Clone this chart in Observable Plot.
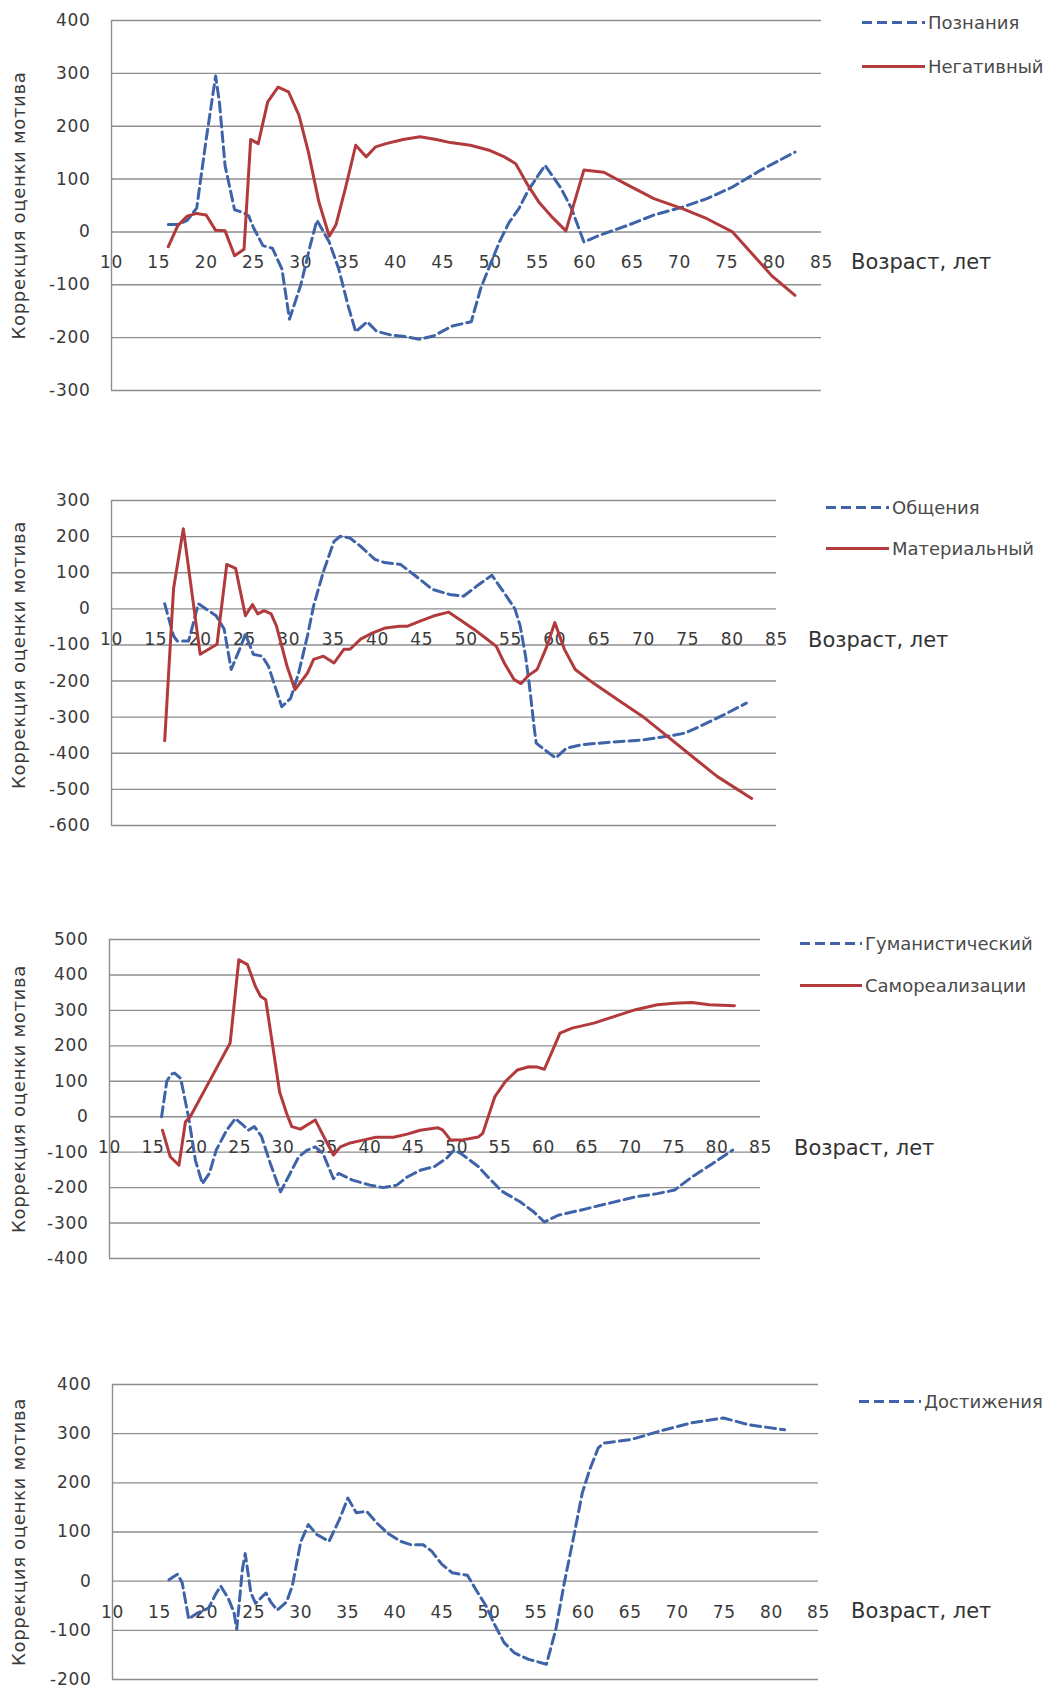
<!DOCTYPE html>
<html><head><meta charset="utf-8">
<script src="https://cdn.jsdelivr.net/npm/d3@7"></script>
<script src="https://cdn.jsdelivr.net/npm/@observablehq/plot@0.6"></script>
<style>
html,body{margin:0;padding:0;background:#fff;}
#page{position:relative;width:1055px;height:1690px;overflow:hidden;font-family:"DejaVu Sans",sans-serif;background:#fff;}
.panel{position:absolute;left:0;}
.panel svg{display:block;}
.panel svg text{letter-spacing:0.7px;}
.lg{position:absolute;display:flex;align-items:center;font-size:18px;color:#4a4a4a;white-space:nowrap;transform:translateY(-50%);}
.lg svg{display:block;}
.xt{position:absolute;font-size:21px;color:#333;white-space:nowrap;transform:translateY(-50%);}
</style></head><body><div id="page"></div>
<script>
// ---- data: [age, value] ----
const xTicks = [10,15,20,25,30,35,40,45,50,55,60,65,70,75,80,85];
const yTicks1 = [-300,-200,-100,0,100,200,300,400];
const yTicks2 = [-600,-500,-400,-300,-200,-100,0,100,200,300];
const yTicks3 = [-400,-300,-200,-100,0,100,200,300,400,500];
const yTicks4 = [-200,-100,0,100,200,300,400];

const poznaniya = [[16,14],[17,14],[18,22],[19,45],[20,175],[21,295],[21.4,245],[22,125],[23,42],[24,36],[24.5,30],[25,8],[26,-26],[27,-31],[28,-70],[28.8,-165],[30,-100],[31,-25],[31.7,22],[33,-19],[34,-70],[35,-140],[35.8,-189],[37,-170],[38,-188],[39.5,-195],[41,-198],[42.5,-203],[44,-197],[46,-178],[48,-170],[49,-107],[50,-62],[51,-18],[52,18],[53,43],[54,78],[55,105],[55.8,126],[57.5,82],[58.6,44],[59.9,-19],[61.6,-6],[64.6,13],[67.3,32],[70.3,47],[72.9,63],[75.6,85],[78.6,117],[82.2,151]];
const negativny = [[16,-28],[17,12],[18,30],[19,35],[20,32],[21,3],[22,2],[23,-45],[24,-33],[24.7,175],[25.5,167],[26.5,246],[27.6,274],[28.7,265],[29.8,221],[30.8,151],[31.9,57],[33,-8],[33.7,13],[34.7,82],[35.8,164],[36.9,142],[37.9,161],[39,167],[40.8,175],[42.6,180],[44.3,175],[45.8,169],[47.9,164],[50,154],[51.5,142],[52.7,129],[54,88],[55.2,55],[56.6,27],[58,2],[59.9,117],[62,113],[64.6,88],[67.3,63],[70.3,44],[72.9,25],[75.6,0],[77.5,-38],[79.7,-82],[82.2,-120]];

const obscheniya = [[16,14],[17,-75],[17.4,-89],[18.7,-89],[19.8,14],[21.8,-19],[22.7,-56],[23.5,-168],[24.6,-103],[25.1,-70],[26,-126],[27,-131],[27.7,-159],[28.7,-234],[29.2,-271],[30.2,-248],[31.1,-178],[32.1,-75],[32.8,9],[33.9,103],[35.1,187],[35.8,201],[36.9,196],[38.1,173],[39.7,137],[40.8,128],[42.6,123],[44.3,91],[46.2,54],[48.1,40],[49.7,35],[51.2,63],[52.9,93],[54.3,44],[55.5,0],[56.1,-48],[56.7,-131],[57.1,-205],[57.7,-335],[57.9,-372],[59.1,-395],[60.1,-413],[61.3,-386],[63.1,-376],[65.9,-370],[69.9,-363],[72.7,-353],[74.7,-344],[76.3,-326],[78.7,-298],[81.6,-261]];
const materialny = [[16,-365],[17,56],[18.1,222],[20,-126],[21.9,-98],[23,123],[24,112],[25.1,-19],[25.9,12],[26.5,-14],[27.2,-5],[28,-14],[28.6,-47],[29.8,-159],[30.7,-224],[32.1,-178],[32.8,-140],[33.9,-131],[35.1,-150],[36.2,-112],[36.9,-112],[38.1,-84],[39.4,-67],[40.9,-53],[42.5,-48],[43.4,-48],[44.8,-34],[46.3,-20],[48,-9],[49.3,-30],[50.9,-57],[52.4,-85],[53.4,-104],[54.3,-150],[55.4,-196],[56.2,-207],[57,-185],[58,-168],[59.1,-104],[60,-38],[61.1,-113],[62.3,-168],[64.3,-205],[67.1,-252],[69.9,-298],[72.7,-353],[75.5,-409],[78.3,-464],[82.2,-525]];

const gumanistichesky = [[16,0],[16.6,100],[17.1,120],[17.5,123],[18.2,108],[19.1,0],[19.9,-123],[20.7,-189],[21.5,-160],[22.3,-94],[23.5,-38],[24.5,-5],[25.4,-24],[26,-38],[26.7,-28],[27.5,-55],[28.5,-130],[29.7,-212],[30.6,-170],[31.8,-113],[32.8,-94],[33.7,-85],[34.6,-104],[35.8,-175],[36.4,-160],[38,-179],[40,-193],[41.5,-200],[43.1,-193],[44.3,-170],[45.8,-151],[47.4,-141],[48.8,-118],[49.7,-94],[50.5,-104],[52.5,-141],[53.6,-170],[55.2,-210],[57.3,-240],[58.9,-269],[60.1,-297],[61.7,-278],[64.2,-264],[67.4,-245],[70.6,-226],[73.1,-217],[75.1,-207],[77.1,-170],[79.5,-132],[81.8,-94]];
const samorealizatsii = [[16.1,-38],[17,-113],[18,-137],[18.75,-14],[19.3,0],[21.6,104],[23.9,208],[24.9,443],[25.9,429],[26.8,368],[27.4,340],[28,330],[28.8,200],[29.6,70],[30.4,10],[31,-28],[32,-35],[33.7,-9],[34.7,-57],[35.8,-108],[36.6,-85],[37.6,-75],[39.2,-66],[40.7,-58],[42.7,-58],[44.3,-49],[45.8,-38],[47.8,-31],[48.4,-38],[49.3,-66],[50.5,-66],[52.5,-57],[53,-47],[54.4,57],[55.6,99],[57,132],[58.3,141],[59.3,140],[60.1,134],[60.9,179],[61.9,236],[63.3,250],[65.8,264],[68.2,283],[70.6,302],[73.1,316],[75.1,320],[77.1,322],[79.1,316],[82,313]];

const dostizheniya = [[16,3],[16.9,14],[17.4,-3],[18.1,-77],[19,-65],[20.2,-55],[21,-25],[21.5,-10],[22.3,-35],[22.9,-63],[23.2,-98],[23.8,24],[24.1,56],[24.7,-24],[25.2,-45],[26.3,-24],[26.8,-42],[27.5,-59],[28.5,-42],[29.1,-10],[30,80],[30.8,115],[31.7,95],[33,81],[34.1,125],[35,169],[35.9,139],[37,142],[38.1,118],[39.2,98],[40.6,81],[41.7,74],[43,74],[43.9,61],[45,34],[46.1,17],[47.7,12],[48.6,-17],[49.7,-51],[50.5,-85],[51.6,-125],[52.7,-146],[54.2,-159],[56.1,-169],[57.1,-98],[58,-3],[59,91],[59.9,179],[60.7,227],[61.6,271],[62.2,281],[65.1,288],[68.1,305],[71.5,322],[74.9,332],[77.6,318],[81.4,308]];

// ---- style ----
const BLUE = "#3f63a8", RED = "#b23a3c", GRID = "#8e8e8e", TXT = "#3a3a3a";
const DASH = "10,5";
const Y_TITLE = "Коррекция оценки мотива";
const X_TITLE = "Возраст, лет";
const page = document.getElementById("page");

function panel(cfg) {
  const lines = cfg.series.map(s => Plot.line(s.data, {
    x: d => d[0], y: d => d[1], stroke: s.color, strokeWidth: 3,
    strokeDasharray: s.dashed ? DASH : null, strokeLinejoin: "round"
  }));
  const chart = Plot.plot({
    width: 1055, height: cfg.height,
    marginLeft: cfg.left, marginRight: 1055 - cfg.right,
    marginTop: cfg.mt, marginBottom: cfg.mb,
    style: {fontFamily: "DejaVu Sans, sans-serif", color: TXT, background: "transparent", overflow: "visible"},
    x: {domain: [10, 85], axis: null},
    y: {domain: cfg.yDomain},
    marks: [
      Plot.gridY(cfg.yTicks, {stroke: GRID, strokeOpacity: 1, strokeWidth: 1.4}),
      Plot.ruleX([10], {stroke: GRID, strokeWidth: 1.4}),
      Plot.axisY(cfg.yTicks, {tickSize: 0, tickPadding: 21, tickFormat: d => String(d), fontSize: 17, label: null, fill: TXT}),
      Plot.text(xTicks, {x: d => d, y: 0, text: d => String(d), dy: 31, fontSize: 17, fill: TXT}),
      Plot.text([Y_TITLE], {frameAnchor: "left", text: d => d, rotate: -90, textAnchor: "middle", lineAnchor: "middle", dx: -(cfg.left - 19), dy: cfg.titleDy || 0, fontSize: 18, fill: TXT}),
      ...lines
    ]
  });
  const div = document.createElement("div");
  div.className = "panel";
  div.style.top = cfg.top + "px";
  div.appendChild(chart);
  page.appendChild(div);

  // x-axis title
  const xt = document.createElement("div");
  xt.className = "xt";
  xt.textContent = X_TITLE;
  xt.style.left = cfg.xTitle[0] + "px";
  xt.style.top = cfg.xTitle[1] + "px";
  page.appendChild(xt);

  // legend
  cfg.series.forEach((s, i) => {
    const [x0, x1] = cfg.legendX;
    const w = x1 - x0;
    const item = document.createElement("div");
    item.className = "lg";
    item.style.left = x0 + "px";
    item.style.top = cfg.legendY[i] + "px";
    item.innerHTML = `<svg width="${w}" height="8"><line x1="0" y1="4" x2="${w}" y2="4" stroke="${s.color}" stroke-width="3" ${s.dashed ? `stroke-dasharray="${DASH}"` : ""}/></svg><span style="margin-left:3px">${s.label}</span>`;
    page.appendChild(item);
  });
}

panel({top: 0, height: 420, left: 111, right: 821, mt: 20, mb: 30, yDomain: [-300, 400], yTicks: yTicks1,
  xTitle: [851, 262], legendX: [862, 925], legendY: [22, 66],
  series: [
    {data: poznaniya, color: BLUE, dashed: true, label: "Познания"},
    {data: negativny, color: RED, dashed: false, label: "Негативный"}
  ]});

panel({top: 470, height: 380, left: 111, right: 776, mt: 30, mb: 25, yDomain: [-600, 300], yTicks: yTicks2, titleDy: -8,
  xTitle: [808, 640], legendX: [826, 889], legendY: [507, 548],
  series: [
    {data: obscheniya, color: BLUE, dashed: true, label: "Общения"},
    {data: materialny, color: RED, dashed: false, label: "Материальный"}
  ]});

panel({top: 910, height: 370, left: 109, right: 760, mt: 29, mb: 22, yDomain: [-400, 500], yTicks: yTicks3,
  xTitle: [794, 1148], legendX: [800, 862], legendY: [943, 985],
  series: [
    {data: gumanistichesky, color: BLUE, dashed: true, label: "Гуманистический"},
    {data: samorealizatsii, color: RED, dashed: false, label: "Самореализации"}
  ]});

panel({top: 1360, height: 330, left: 112, right: 818, mt: 24, mb: 11, yDomain: [-200, 400], yTicks: yTicks4,
  xTitle: [851, 1611], legendX: [859, 921], legendY: [1401],
  series: [
    {data: dostizheniya, color: BLUE, dashed: true, label: "Достижения"}
  ]});
</script></body></html>
